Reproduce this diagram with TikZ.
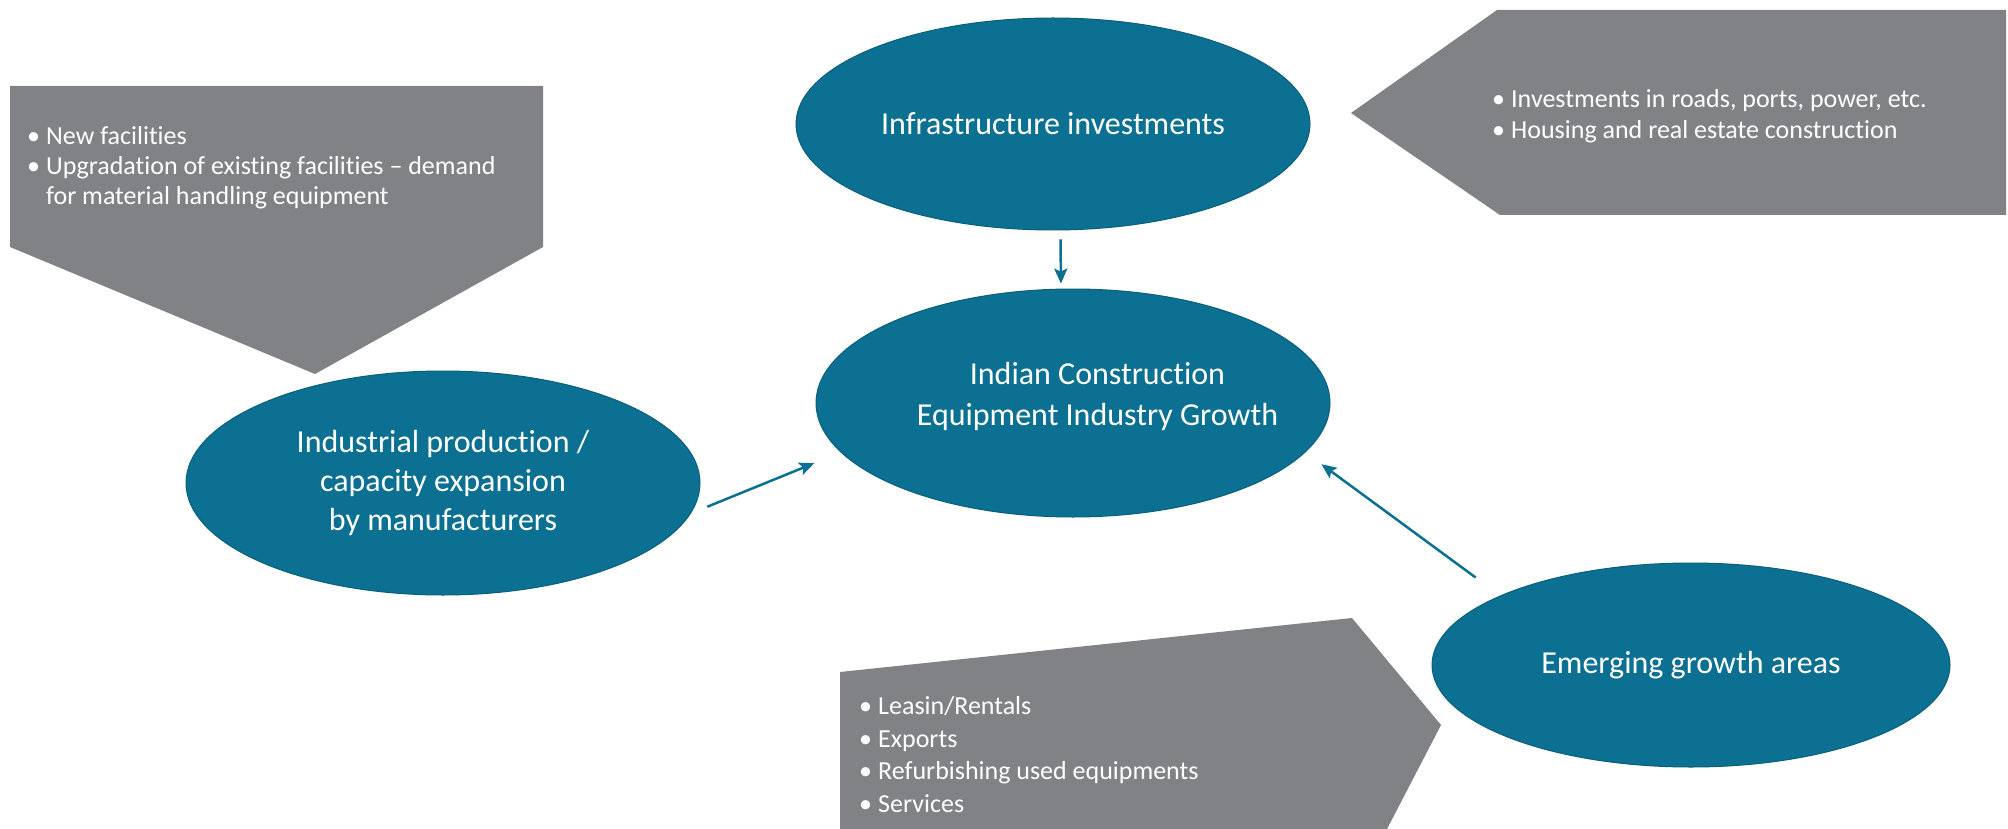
\documentclass[tikz,border=0pt]{standalone}
\usepackage{fontspec}
\setmainfont{Carlito}[Ligatures={NoCommon}]
\usetikzlibrary{shapes.geometric,arrows.meta}
\definecolor{ctTeal}{HTML}{0B7092}
\definecolor{ctGray}{HTML}{818285}
\newcommand{\bul}{\makebox[19pt][l]{\textbullet}}
\begin{document}
\begin{tikzpicture}[x=1pt,y=-1pt,
  bubble/.style={ellipse, fill=ctTeal, draw=ctTeal!85!black, line width=1pt, text=white,
    align=center, inner sep=0pt, font=\fontsize{32}{39}\selectfont},
  callout/.style={fill=ctGray},
  calltext/.style={text=white, anchor=base west, inner sep=0pt, font=\fontsize{26}{30}\selectfont},
  arr/.style={ctTeal, line width=2.5pt, -{Stealth[length=15pt,width=13pt,inset=3pt]}}]
\useasboundingbox (0,0) rectangle (2008,829);
\fill[white] (0,0) rectangle (2008,829);
% callout shapes
\fill[callout] (10,86) -- (543,86) -- (543,247) -- (315,374) -- (10,247) -- cycle;
\fill[callout] (1351,113) -- (1497,10) -- (2006,10) -- (2006,215) -- (1500,215) -- cycle;
\fill[callout] (840,672) -- (1352,618) -- (1441,725) -- (1387,829) -- (840,829) -- cycle;
% callout texts
\node[calltext] (tl) at (27,144.5) {\begin{tabular}[t]{@{}l@{}l@{}}
\bul & New facilities\\
\bul & Upgradation of existing facilities -- demand\\
 & for material handling equipment
\end{tabular}};
\node[calltext, font=\fontsize{26}{31}\selectfont] (tr) at (1492,107.5) {\begin{tabular}[t]{@{}l@{}l@{}}
\bul & Investments in roads, ports, power, etc.\\
\bul & Housing and real estate construction
\end{tabular}};
\node[calltext, font=\fontsize{26}{32.5}\selectfont] (tb) at (859,714.5) {\begin{tabular}[t]{@{}l@{}l@{}}
\bul & Leasin/Rentals\\
\bul & Exports\\
\bul & Refurbishing used equipments\\
\bul & Services
\end{tabular}};
% ellipses
\node[bubble, minimum width=514pt, minimum height=212pt] (inf) at (1053,124) {Infrastructure investments};
\node[bubble, minimum width=514pt, minimum height=228pt, font=\fontsize{32}{41}\selectfont] (cen) at (1073,403)
  {\raisebox{0pt}[0pt][0pt]{\makebox[0pt]{\hspace{49pt}\begin{tabular}{@{}c@{}}Indian Construction\\Equipment Industry Growth\end{tabular}}}};
\node[bubble, minimum width=514pt, minimum height=224pt] (ind) at (443,483) {Industrial production /\\capacity expansion\\by manufacturers};
\node[bubble, minimum width=518pt, minimum height=204pt] (emg) at (1691,665) {Emerging growth areas};
% connectors
\draw[arr, shorten <=9pt, shorten >=5pt] (inf.-86.2) -- (cen.96.5);
\draw[arr, shorten <=17.7pt, shorten >=28.5pt] (ind.-7.3) -- (cen.192.3);
\draw[arr, shorten <=30.5pt, shorten >=20pt] (emg.160.65) -- (cen.-12.6);
\end{tikzpicture}
\end{document}
